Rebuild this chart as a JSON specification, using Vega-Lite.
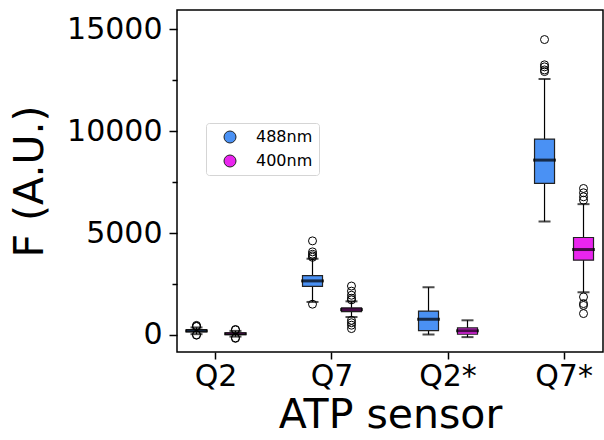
{
  "$schema": "https://vega.github.io/schema/vega-lite/v6.json",
  "width": 426,
  "height": 342,
  "autosize": {"type": "none"},
  "padding": {"left": 177, "top": 10, "right": 1, "bottom": 88},
  "config": {
    "font": "DejaVu Sans",
    "view": {"stroke": "#000000", "strokeWidth": 1.5},
    "axis": {"grid": false, "domain": false, "tickColor": "#000000", "tickWidth": 1.5, "labelColor": "#000000", "titleColor": "#000000", "labelFont": "DejaVu Sans", "titleFont": "DejaVu Sans", "titleFontWeight": "normal"}
  },
  "datasets": {
    "boxes": [
      {"sensor": "Q2", "wl": "488nm", "lo": 40, "q1": 150, "med": 200, "q3": 260, "hi": 370},
      {"sensor": "Q2", "wl": "400nm", "lo": -80, "q1": 20, "med": 60, "q3": 110, "hi": 200},
      {"sensor": "Q7", "wl": "488nm", "lo": 1620, "q1": 2380, "med": 2652, "q3": 2910, "hi": 3740},
      {"sensor": "Q7", "wl": "400nm", "lo": 880, "q1": 1150, "med": 1246, "q3": 1330, "hi": 1650},
      {"sensor": "Q2*", "wl": "488nm", "lo": 25, "q1": 210, "med": 770, "q3": 1170, "hi": 2340},
      {"sensor": "Q2*", "wl": "400nm", "lo": -105, "q1": 35, "med": 205, "q3": 350, "hi": 720},
      {"sensor": "Q7*", "wl": "488nm", "lo": 5566, "q1": 7432, "med": 8578, "q3": 9609, "hi": 12556},
      {"sensor": "Q7*", "wl": "400nm", "lo": 2095, "q1": 3667, "med": 4191, "q3": 4780, "hi": 6417}
    ],
    "outliers": [
      {"sensor": "Q2", "wl": "488nm", "value": 470},
      {"sensor": "Q2", "wl": "488nm", "value": 430},
      {"sensor": "Q2", "wl": "488nm", "value": 415},
      {"sensor": "Q2", "wl": "488nm", "value": 10},
      {"sensor": "Q2", "wl": "488nm", "value": -10},
      {"sensor": "Q2", "wl": "400nm", "value": 270},
      {"sensor": "Q2", "wl": "400nm", "value": 245},
      {"sensor": "Q2", "wl": "400nm", "value": -140},
      {"sensor": "Q2", "wl": "400nm", "value": -165},
      {"sensor": "Q7", "wl": "488nm", "value": 4615},
      {"sensor": "Q7", "wl": "488nm", "value": 4075},
      {"sensor": "Q7", "wl": "488nm", "value": 3960},
      {"sensor": "Q7", "wl": "488nm", "value": 3880},
      {"sensor": "Q7", "wl": "488nm", "value": 3810},
      {"sensor": "Q7", "wl": "488nm", "value": 1510},
      {"sensor": "Q7", "wl": "400nm", "value": 2400},
      {"sensor": "Q7", "wl": "400nm", "value": 2150},
      {"sensor": "Q7", "wl": "400nm", "value": 1950},
      {"sensor": "Q7", "wl": "400nm", "value": 1800},
      {"sensor": "Q7", "wl": "400nm", "value": 1720},
      {"sensor": "Q7", "wl": "400nm", "value": 720},
      {"sensor": "Q7", "wl": "400nm", "value": 600},
      {"sensor": "Q7", "wl": "400nm", "value": 480},
      {"sensor": "Q7", "wl": "400nm", "value": 314},
      {"sensor": "Q7*", "wl": "488nm", "value": 14490},
      {"sensor": "Q7*", "wl": "488nm", "value": 13250},
      {"sensor": "Q7*", "wl": "488nm", "value": 13150},
      {"sensor": "Q7*", "wl": "488nm", "value": 13000},
      {"sensor": "Q7*", "wl": "488nm", "value": 12920},
      {"sensor": "Q7*", "wl": "400nm", "value": 7186},
      {"sensor": "Q7*", "wl": "400nm", "value": 6974},
      {"sensor": "Q7*", "wl": "400nm", "value": 6777},
      {"sensor": "Q7*", "wl": "400nm", "value": 6614},
      {"sensor": "Q7*", "wl": "400nm", "value": 1866},
      {"sensor": "Q7*", "wl": "400nm", "value": 1540},
      {"sensor": "Q7*", "wl": "400nm", "value": 1450},
      {"sensor": "Q7*", "wl": "400nm", "value": 1050}
    ]
  },
  "encoding": {
    "x": {
      "field": "sensor", "type": "nominal", "sort": ["Q2", "Q7", "Q2*", "Q7*"],
      "scale": {"paddingInner": 0.328, "paddingOuter": 0},
      "axis": {"title": "ATP sensor", "labelAngle": 0, "labelFontSize": 30, "titleFontSize": 41, "tickSize": 7, "labelPadding": 2, "titlePadding": 4}
    },
    "xOffset": {"field": "wl", "type": "nominal", "sort": ["488nm", "400nm"], "scale": {"paddingInner": 0, "paddingOuter": 0}}
  },
  "layer": [
    {
      "data": {"name": "boxes"},
      "mark": {"type": "rule", "color": "#000000", "strokeWidth": 1.2},
      "encoding": {
        "y": {"field": "lo", "type": "quantitative",
          "scale": {"domain": [-835, 15940], "nice": false, "zero": false},
          "axis": {"title": "F (A.U.)", "values": [0, 2500, 5000, 7500, 10000, 12500, 15000], "format": "d",
            "labelExpr": "datum.value % 5000 === 0 ? datum.label : ''",
            "tickSize": {"condition": {"test": "datum.value % 5000 === 0", "value": 8}, "value": 5},
            "labelFontSize": 30, "titleFontSize": 41, "labelPadding": 7, "titlePadding": 15}},
        "y2": {"field": "hi"}
      }
    },
    {
      "data": {"name": "boxes"},
      "mark": {"type": "bar", "size": 20, "stroke": "#222222", "strokeWidth": 1.2},
      "encoding": {
        "y": {"field": "q1", "type": "quantitative"},
        "y2": {"field": "q3"},
        "fill": {"field": "wl", "type": "nominal",
          "scale": {"domain": ["488nm", "400nm"], "range": ["#4a91f4", "#ea25ef"]},
          "legend": {"title": null, "orient": "none", "legendX": 29, "legendY": 113, "symbolType": "circle",
            "symbolSize": 144, "symbolStrokeColor": "#222222", "symbolStrokeWidth": 1, "symbolOpacity": 1,
            "labelFontSize": 16, "labelFont": "DejaVu Sans", "labelColor": "#000000", "padding": 6, "rowPadding": 8,
            "symbolOffset": 10, "labelOffset": 18, "strokeColor": "#d5d5d5", "cornerRadius": 3, "fillColor": "#ffffff"}}
      }
    },
    {
      "data": {"name": "boxes"},
      "mark": {"type": "tick", "color": "#000000", "size": 12, "thickness": 2},
      "encoding": {"y": {"field": "lo", "type": "quantitative"}}
    },
    {
      "data": {"name": "boxes"},
      "mark": {"type": "tick", "color": "#000000", "size": 12, "thickness": 2},
      "encoding": {"y": {"field": "hi", "type": "quantitative"}}
    },
    {
      "data": {"name": "outliers"},
      "mark": {"type": "point", "shape": "circle", "filled": false, "stroke": "#000000", "strokeWidth": 1, "size": 64, "opacity": 1},
      "encoding": {"y": {"field": "value", "type": "quantitative"}}
    },
    {
      "data": {"name": "boxes"},
      "mark": {"type": "tick", "color": "#000000", "size": 23, "thickness": 3},
      "encoding": {"y": {"field": "med", "type": "quantitative"}}
    }
  ]
}
